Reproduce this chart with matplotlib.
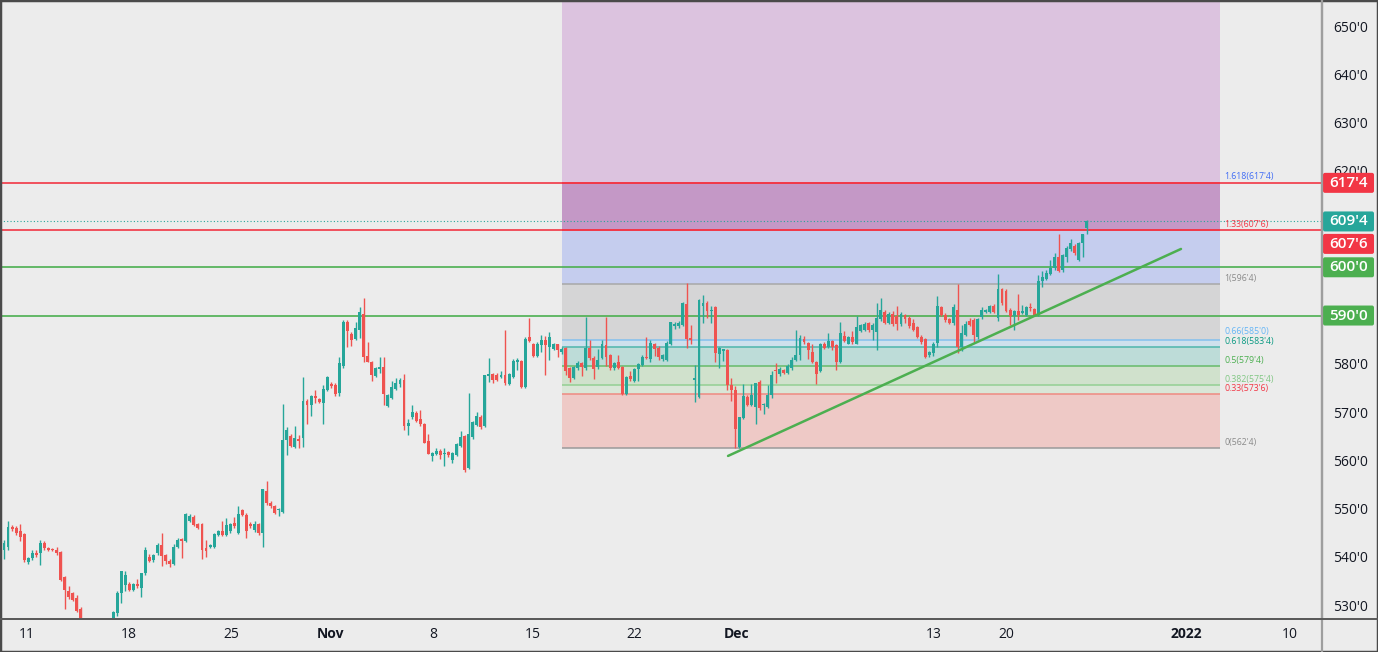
import numpy as np
import matplotlib
matplotlib.use('Agg')
import matplotlib.pyplot as plt
from matplotlib.patches import Rectangle, FancyBboxPatch
from matplotlib.lines import Line2D
from matplotlib.ticker import FuncFormatter

plt.rcParams['font.family'] = ['Open Sans', 'DejaVu Sans']

# --- candle data (price in cents) ---
opens = [
    541.5, 542.0, 546.2, 546.0, 545.3, 544.7, 538.9, 539.7, 540.8, 540.8,
    542.9, 541.8, 541.6, 541.4, 541.0, 535.8, 532.8, 532.5, 531.5, 529.2,
    526.5, 524.0, 522.5, 523.5, 522.0, 524.0, 525.0, 526.5, 528.3, 532.5,
    534.1, 534.3, 533.1, 534.3, 533.5, 536.6, 540.0, 539.3, 540.8, 542.4,
    540.4, 539.2, 538.5, 542.0, 543.7, 543.3, 547.5, 548.3, 546.8, 546.8,
    541.8, 542.0, 542.0, 544.5, 545.4, 544.5, 545.4, 546.9, 545.0, 549.7,
    548.7, 546.8, 545.5, 546.8, 544.9, 553.6, 551.2, 550.5, 549.6, 549.3,
    564.1, 565.1, 562.8, 564.4, 564.6, 572.3, 571.4, 573.3, 572.8, 571.9,
    574.5, 575.9, 575.6, 573.9, 579.5, 588.7, 586.2, 585.1, 587.1, 590.3,
    581.6, 580.4, 577.5, 579.0, 579.4, 571.2, 573.0, 574.8, 575.8, 576.6,
    567.0, 569.0, 569.8, 568.5, 567.5, 563.9, 560.9, 561.2, 562.0, 561.2,
    561.8, 560.1, 561.1, 563.0, 565.0, 558.4, 564.9, 567.3, 569.0, 567.0,
    577.5, 577.8, 577.7, 577.2, 577.7, 575.8, 577.3, 580.4, 580.6, 575.2,
    585.5, 584.1, 581.6, 583.9, 585.0, 583.5, 583.1, 584.0, 582.4, 583.2,
    579.1, 577.0, 579.1, 580.1, 579.1, 583.3, 581.3, 579.4, 581.2, 583.9,
    581.8, 579.1, 580.3, 579.4, 573.7, 577.5, 576.5, 578.9, 579.7, 581.5,
    580.9, 584.1, 583.3, 581.0, 580.8, 584.2, 587.8, 587.8, 588.0, 592.4,
    585.2, 576.6, 573.2, 592.0, 592.7, 590.9, 591.8, 582.0, 582.6, 582.8,
    575.6, 574.6, 562.8, 568.7, 573.2, 571.5, 571.1, 576.3, 571.4, 571.0,
    573.5, 578.8, 577.8, 578.7, 578.0, 579.1, 580.8, 581.8, 585.1, 584.3,
    582.5, 580.4, 578.4, 584.2, 583.4, 584.8, 583.9, 580.4, 585.7, 584.2,
    585.5, 584.1, 586.8, 587.0, 588.4, 587.0, 586.6, 589.2, 590.8, 588.5,
    590.4, 590.0, 588.2, 590.1, 589.5, 588.5, 587.6, 585.6, 585.1, 581.8,
    582.3, 584.4, 591.7, 590.1, 589.2, 588.4, 591.1, 583.5, 586.0, 588.9,
    589.1, 585.5, 589.6, 590.8, 590.8, 592.0, 589.4, 595.4, 595.1, 591.2,
    589.9, 590.9, 590.6, 590.1, 591.8, 591.4, 590.1, 597.2, 597.6, 598.6,
    599.8, 602.2, 599.4, 602.2, 603.7, 604.4, 601.6, 605.0, 608.1,
]
highs = [
    543.5, 547.5, 546.6, 546.3, 546.8, 544.9, 540.0, 541.3, 541.3, 543.5,
    543.3, 542.0, 541.9, 542.0, 541.2, 536.0, 534.0, 532.7, 532.0, 529.5,
    527.0, 525.5, 524.0, 525.0, 524.5, 526.0, 526.8, 528.8, 532.8, 537.1,
    537.1, 534.8, 534.5, 535.3, 536.7, 542.0, 540.5, 540.6, 542.9, 544.9,
    540.6, 539.6, 542.6, 543.8, 543.9, 549.0, 548.9, 548.6, 547.0, 547.0,
    543.5, 542.6, 545.0, 545.6, 547.5, 548.0, 547.0, 548.3, 550.5, 550.0,
    549.0, 547.2, 547.5, 547.0, 554.0, 555.6, 551.5, 550.8, 550.2, 571.7,
    566.8, 565.4, 567.0, 565.3, 577.3, 572.6, 573.6, 574.5, 573.0, 575.5,
    577.5, 576.2, 576.0, 581.5, 589.0, 589.0, 586.5, 588.7, 591.8, 593.6,
    584.5, 580.6, 579.3, 581.5, 581.5, 573.8, 576.5, 577.0, 577.0, 577.9,
    568.5, 571.5, 570.2, 570.5, 567.8, 565.4, 561.8, 562.5, 562.3, 562.5,
    562.0, 561.8, 563.5, 566.0, 565.3, 573.9, 568.2, 570.0, 569.4, 577.7,
    581.2, 578.0, 578.0, 578.5, 587.0, 578.0, 580.9, 581.2, 580.8, 585.6,
    589.5, 584.3, 584.6, 586.0, 585.8, 586.6, 584.4, 584.2, 583.4, 583.5,
    579.4, 579.6, 580.5, 580.4, 589.7, 584.9, 581.6, 583.0, 585.0, 589.7,
    582.0, 580.4, 581.8, 579.6, 577.5, 578.5, 579.2, 580.2, 581.8, 585.6,
    584.9, 584.4, 583.6, 582.0, 584.7, 588.7, 588.6, 588.8, 592.9, 596.7,
    588.0, 579.7, 593.5, 594.3, 593.0, 592.0, 592.0, 583.5, 583.0, 583.0,
    577.0, 575.3, 569.0, 575.9, 573.6, 575.9, 576.1, 576.6, 571.8, 575.5,
    578.5, 580.2, 579.3, 579.0, 580.0, 581.4, 587.0, 585.9, 585.8, 584.5,
    584.0, 580.6, 584.4, 584.5, 586.3, 585.0, 584.2, 588.7, 586.8, 585.8,
    586.8, 589.8, 588.3, 588.6, 588.7, 588.5, 592.5, 593.6, 591.1, 590.8,
    591.0, 592.0, 590.8, 590.4, 589.8, 589.2, 587.8, 585.9, 585.3, 582.6,
    584.5, 594.0, 592.0, 590.5, 589.5, 592.4, 596.5, 588.0, 588.8, 589.4,
    589.4, 589.5, 591.8, 591.4, 592.2, 592.4, 598.7, 595.8, 595.5, 591.5,
    591.1, 594.5, 592.2, 592.0, 592.5, 591.6, 598.4, 599.2, 599.4, 601.5,
    603.0, 606.9, 602.8, 604.4, 605.9, 604.9, 605.2, 607.0, 609.8,
]
lows = [
    539.5, 541.5, 545.4, 544.5, 543.3, 539.0, 538.4, 539.3, 540.0, 538.3,
    541.5, 541.2, 541.2, 540.3, 535.0, 529.2, 531.2, 530.8, 528.6, 526.0,
    523.0, 521.5, 520.5, 521.0, 520.0, 522.5, 523.5, 526.0, 527.8, 530.5,
    533.0, 532.8, 532.8, 533.5, 531.7, 536.2, 539.0, 539.0, 540.3, 538.0,
    538.5, 537.9, 538.3, 541.8, 539.7, 543.0, 547.2, 546.3, 545.8, 539.5,
    540.0, 541.8, 541.8, 544.3, 544.3, 544.3, 545.0, 546.0, 544.8, 548.5,
    543.8, 546.0, 545.2, 544.6, 542.1, 550.8, 550.2, 548.8, 548.4, 549.0,
    561.1, 562.8, 562.5, 562.5, 562.8, 567.6, 569.2, 571.8, 571.8, 567.5,
    574.3, 575.0, 573.3, 573.4, 579.2, 583.5, 583.7, 585.0, 585.3, 580.4,
    580.3, 576.5, 577.2, 578.0, 571.4, 571.0, 572.8, 574.5, 575.2, 566.3,
    565.3, 568.5, 568.0, 567.2, 563.5, 561.2, 559.8, 561.0, 560.3, 558.9,
    560.6, 559.5, 560.8, 562.8, 557.6, 558.2, 564.5, 567.0, 566.5, 566.8,
    576.2, 576.0, 576.5, 577.0, 575.6, 575.5, 577.0, 578.8, 575.0, 575.0,
    584.6, 581.4, 581.4, 582.5, 577.7, 580.8, 582.8, 581.5, 582.0, 577.7,
    576.3, 576.8, 578.8, 577.5, 578.8, 580.8, 576.8, 579.0, 581.0, 579.5,
    578.8, 578.8, 579.0, 573.5, 573.5, 576.5, 576.3, 576.5, 579.5, 581.0,
    580.3, 581.6, 580.7, 580.5, 580.5, 583.8, 587.3, 587.5, 587.8, 583.2,
    584.0, 572.1, 573.0, 588.5, 589.5, 588.5, 580.4, 579.1, 580.6, 574.6,
    572.3, 562.5, 562.5, 568.5, 571.2, 571.2, 567.5, 570.5, 569.5, 570.8,
    573.0, 576.0, 577.5, 577.8, 577.8, 578.8, 580.5, 580.8, 584.0, 580.9,
    580.2, 575.9, 578.2, 583.0, 583.2, 582.8, 578.7, 580.2, 584.5, 584.0,
    584.2, 584.0, 586.5, 586.8, 586.5, 585.0, 582.8, 588.8, 588.2, 588.2,
    587.8, 587.0, 587.8, 588.5, 587.5, 586.8, 585.4, 584.0, 581.2, 581.4,
    581.7, 583.5, 589.8, 588.7, 588.3, 588.0, 582.2, 582.6, 585.8, 587.8,
    584.5, 585.2, 589.3, 590.5, 590.5, 590.5, 588.8, 592.2, 590.7, 588.0,
    587.0, 589.0, 590.3, 589.8, 591.0, 589.8, 589.9, 596.0, 597.3, 598.3,
    599.5, 599.0, 599.1, 601.0, 603.4, 602.5, 601.3, 602.2, 607.0,
]
closes = [
    542.8, 546.2, 545.8, 544.9, 544.0, 539.3, 539.7, 540.8, 540.4, 542.9,
    541.8, 541.3, 541.3, 540.8, 535.2, 533.1, 531.7, 531.0, 528.8, 526.5,
    524.0, 522.5, 523.5, 522.0, 524.0, 525.0, 526.0, 528.5, 532.5, 537.1,
    536.2, 533.1, 534.3, 534.0, 536.7, 541.3, 539.2, 540.4, 542.4, 540.1,
    539.2, 538.6, 542.1, 543.5, 543.3, 548.9, 548.5, 546.6, 546.0, 541.4,
    541.1, 542.4, 544.7, 545.4, 544.5, 546.6, 546.8, 546.4, 548.9, 548.7,
    545.4, 546.4, 546.8, 544.9, 554.0, 551.1, 550.5, 549.1, 549.8, 564.2,
    566.3, 563.0, 564.6, 563.9, 572.3, 571.5, 573.3, 573.0, 572.1, 574.8,
    577.3, 575.3, 573.7, 580.2, 588.7, 586.8, 584.9, 587.4, 590.8, 581.5,
    580.4, 577.7, 579.1, 579.4, 573.7, 573.5, 575.2, 576.0, 576.6, 567.0,
    567.8, 570.1, 568.2, 567.6, 563.6, 561.4, 561.6, 562.0, 561.0, 561.3,
    561.0, 561.5, 563.4, 564.8, 558.0, 565.4, 568.0, 569.2, 566.9, 577.7,
    577.7, 576.7, 576.7, 577.7, 576.0, 577.8, 580.6, 580.8, 575.2, 585.1,
    584.8, 581.6, 584.1, 585.0, 583.8, 585.6, 584.1, 582.8, 583.1, 578.4,
    577.0, 579.4, 580.2, 579.3, 583.3, 581.2, 578.9, 580.8, 584.1, 581.5,
    579.1, 580.2, 579.2, 573.7, 577.3, 576.8, 578.9, 580.0, 581.5, 581.2,
    584.4, 583.0, 581.5, 581.8, 584.4, 588.7, 588.2, 588.4, 592.7, 585.1,
    585.0, 577.0, 593.2, 592.7, 591.0, 591.1, 582.3, 583.2, 583.0, 575.6,
    574.6, 566.4, 568.9, 573.3, 571.5, 573.5, 576.1, 570.8, 571.7, 573.5,
    577.7, 578.5, 579.0, 578.0, 579.5, 580.8, 581.8, 585.3, 584.5, 582.8,
    580.4, 577.9, 584.2, 583.2, 584.8, 583.5, 580.4, 586.3, 584.8, 585.5,
    584.5, 587.7, 588.0, 588.2, 587.0, 588.0, 589.4, 591.1, 588.5, 590.3,
    588.2, 588.3, 590.3, 589.2, 587.8, 587.1, 585.6, 584.5, 581.5, 582.5,
    584.2, 592.0, 590.1, 589.0, 588.5, 591.7, 583.5, 586.3, 588.3, 588.1,
    586.0, 589.3, 591.1, 591.1, 592.0, 590.8, 595.4, 592.5, 591.0, 590.0,
    591.0, 590.1, 591.0, 591.7, 591.5, 590.1, 597.2, 598.0, 598.8, 599.8,
    602.2, 599.3, 602.5, 604.1, 605.0, 602.9, 605.0, 606.9, 609.5,
]

# x axis: tick positions in bar units and their labels
tick_pos = [5.7, 30.9, 56.2, 80.9, 106.2, 130.9, 155.9, 181.2, 230.0, 248.0, 292.6, 318.3]
tick_labels = ['11', '18', '25', 'Nov', '8', '15', '22', 'Dec', '13', '20', '2022', '10']
bold_labels = {'Nov', 'Dec', '2022'}

# price scale labels that are not hidden behind the price boxes
y_ticks = [530, 540, 550, 560, 570, 580, 620, 630, 640, 650]

# fibonacci retracement drawing
fib_levels = ['0', '0.33', '0.382', '0.5', '0.618', '0.66', '1', '1.33', '1.618']
fib_prices = [562.5, 573.75, 575.5, 579.5, 583.5, 585.0, 596.5, 607.75, 617.5]
fib_label_lift = [1.0, 1.0, 1.0, 1.0, 0.6, 2.4, 1.0, 1.0, 1.0]
fib_start, fib_end = 138.1, 301.0
fib_line_colors = ['#9a9a9a', '#ee8a82', '#93cf93', '#66bb6a', '#4db6ac', '#82c0ee',
                   '#a8a8a8', '#f23645', '#f23645']
fib_text_colors = ['#8a8a8a', '#f23645', '#81c784', '#4caf50', '#089981', '#64b5f6',
                   '#8a8a8a', '#f23645', '#3f6cf5']
zone_colors = ['#eec9c6', '#d9e6d7', '#d0e1cc', '#bddcd8', '#cde0ec', '#d5d5d6',
               '#c5cdee', '#c498c6']
top_zone_color = '#dcc3df'

# horizontal levels
hlines = [617.5, 607.75, 600.0, 590.0]
hline_colors = ['#f23645', '#f23645', '#4caf50', '#4caf50']
last_price = 609.5

# trend line (bar index, price)
trend_x = [179.2, 291.3]
trend_y = [560.9, 603.8]

# right-axis price boxes: price, colour, vertical shift in px
box_prices = [617.5, 609.5, 607.75, 600.0, 590.0]
box_colors = ['#f23645', '#26a69a', '#f23645', '#4caf50', '#4caf50']
box_shift = [0, 0, 14, 0, 0]

UP, DOWN = '#26a69a', '#ef5350'
BG = '#ececec'


def fmt_price(p):
    whole = int(np.floor(p + 1e-9))
    eighths = int(round((p - whole) * 8))
    if eighths == 8:
        whole += 1
        eighths = 0
    return f"{whole}'{eighths}"


W, H = 1378, 652
fig = plt.figure(figsize=(W / 100, H / 100), dpi=100, facecolor=BG)
ax = fig.add_axes([0, 33 / H, 1322 / W, 619 / H])
ax.set_facecolor(BG)
ax.set_xlim(-0.99, 326.2)
ax.set_ylim(527.1, 655.4)

# fib zones
top = ax.get_ylim()[1]
for lo, hi, col in zip(fib_prices[:-1], fib_prices[1:], zone_colors):
    ax.add_patch(Rectangle((fib_start, lo), fib_end - fib_start, hi - lo,
                           fc=col, ec='none', zorder=0.5))
ax.add_patch(Rectangle((fib_start, fib_prices[-1]), fib_end - fib_start, top + 5 - fib_prices[-1],
                       fc=top_zone_color, ec='none', zorder=0.5))
for lvl, p, lift, lc, tc in zip(fib_levels, fib_prices, fib_label_lift,
                                fib_line_colors, fib_text_colors):
    ax.hlines(p, fib_start, fib_end, colors=lc, lw=1.1, zorder=1)
    ax.annotate(f'{lvl}({fmt_price(p)})', xy=(fib_end, p), xytext=(3, lift),
                textcoords='offset points', fontsize=6.3, color=tc, va='bottom', ha='left')

# horizontal levels
for p, col in zip(hlines, hline_colors):
    ax.axhline(p, color=col, lw=1.2, zorder=2)
ax.axhline(last_price, color='#26a69a', lw=0.8, ls=(0, (1, 2)), zorder=2)

# candles
x = np.arange(len(closes))
o = np.array(opens)
c = np.array(closes)
hi = np.array(highs)
lo = np.array(lows)
cols = np.where(c >= o, UP, DOWN)
ax.vlines(x, lo, hi, colors=cols, lw=1.0, zorder=3)
body_lo = np.minimum(o, c)
body_h = np.maximum(np.abs(c - o), 0.3)
ax.bar(x, body_h, bottom=body_lo, width=0.72, color=cols, lw=0, zorder=3.5)

# trend line
ax.plot(trend_x, trend_y, color='#4caf50', lw=1.8, zorder=4, solid_capstyle='round')

# axes styling
for s in ['top', 'left']:
    ax.spines[s].set_visible(False)
ax.spines['right'].set_color('#9e9e9e')
ax.spines['right'].set_linewidth(1.6)
ax.spines['bottom'].set_color('#5a5a5a')
ax.spines['bottom'].set_linewidth(1.4)

ax.set_xticks(tick_pos)
ax.set_xticklabels(tick_labels)
for t in ax.get_xticklabels():
    if t.get_text() in bold_labels:
        t.set_fontweight('bold')
ax.tick_params(axis='x', length=0, pad=6, labelsize=10, colors='#131722')

ax.set_yticks(y_ticks)
ax.yaxis.set_major_formatter(FuncFormatter(lambda v, _: fmt_price(v)))
ax.yaxis.tick_right()
ax.tick_params(axis='y', length=0, pad=8, labelsize=10, colors='#131722')

# price boxes on the right axis (pixel based)
fig.canvas.draw()
xl = ax.transAxes.transform((1, 0))[0] + 1
for p, col, sh in zip(box_prices, box_colors, box_shift):
    yd = ax.transData.transform((0, p))[1] - sh
    fig.patches.append(FancyBboxPatch((xl, yd - 10), 51, 20,
                                      boxstyle='round,pad=0,rounding_size=2',
                                      fc=col, ec='none', transform=None, figure=fig))
    fig.text(xl + 25.5, yd, fmt_price(p), transform=None, ha='center', va='center',
             color='white', fontsize=11, fontweight='semibold')

# frame lines
fig.add_artist(Line2D([1322 / W, 1322 / W], [0, 1], transform=fig.transFigure,
                      color='#9e9e9e', lw=1.6))
fig.add_artist(Line2D([0, 1], [33 / H, 33 / H], transform=fig.transFigure,
                      color='#5a5a5a', lw=1.4))
fig.add_artist(Rectangle((0, 0), 1, 1, transform=fig.transFigure, fill=False,
                         ec='#4a4a4a', lw=2.5))

fig.savefig('out.png', dpi=100, facecolor=BG)
